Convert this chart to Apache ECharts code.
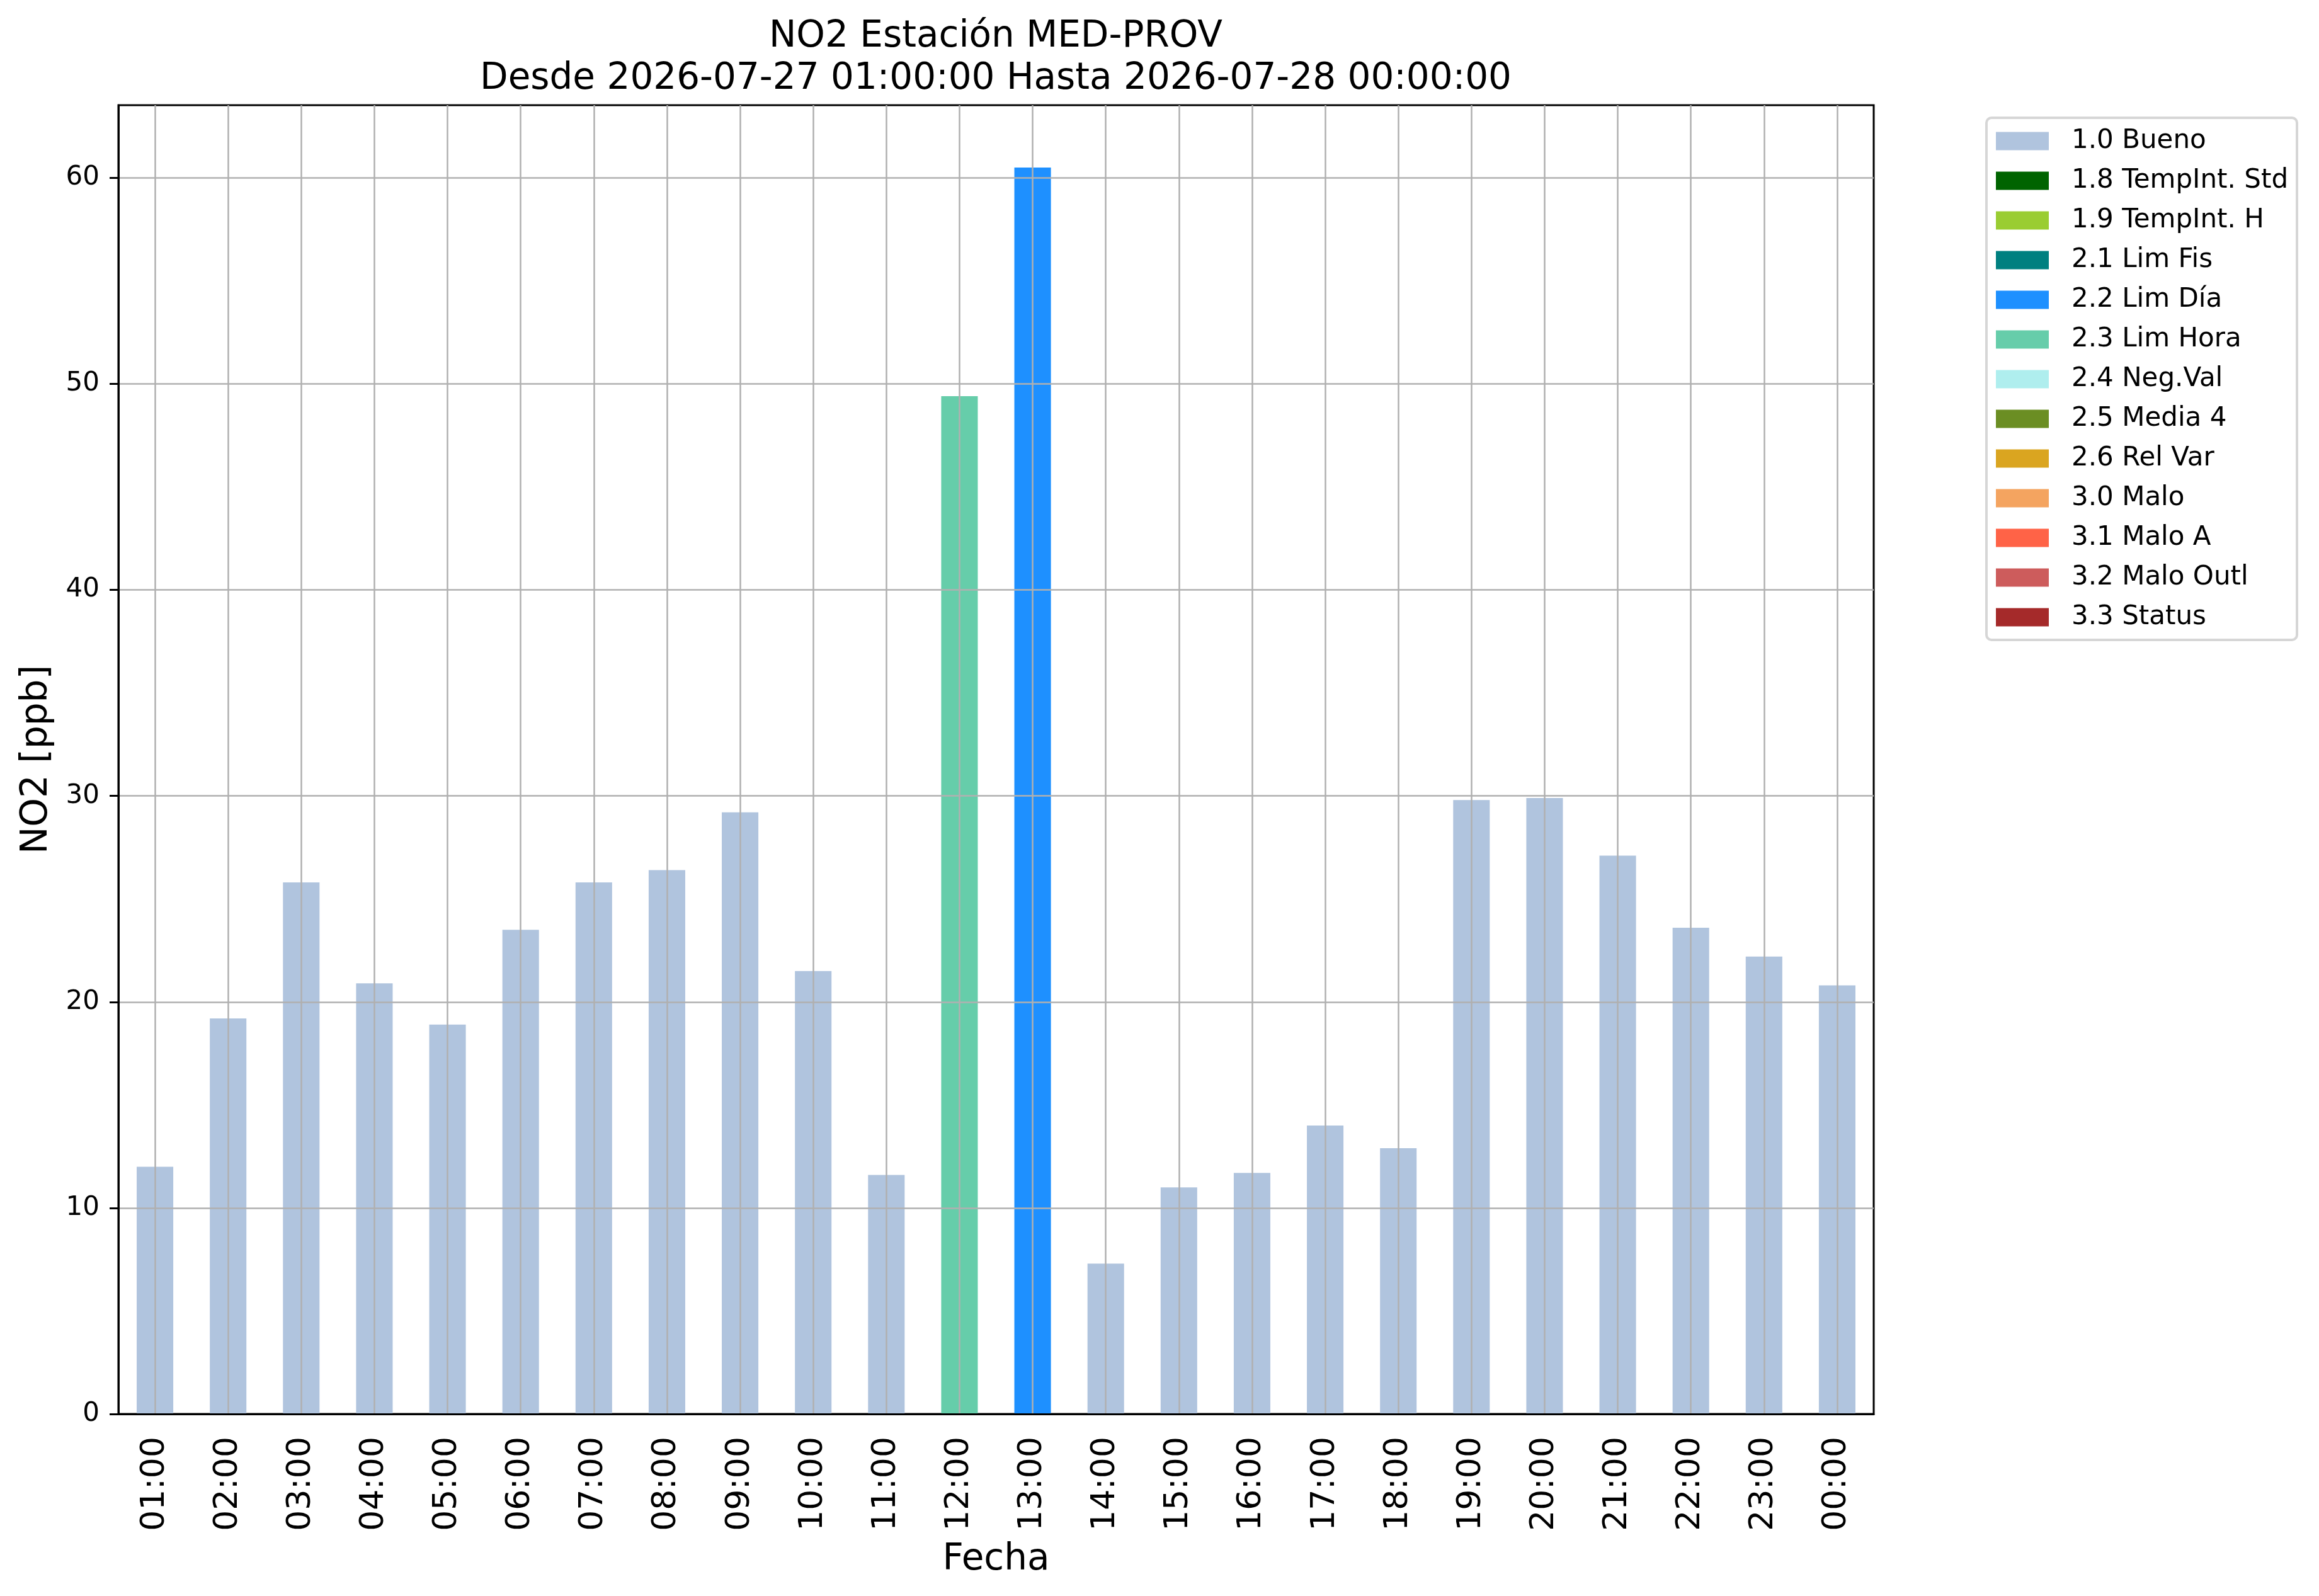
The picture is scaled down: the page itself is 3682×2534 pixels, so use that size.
<!DOCTYPE html>
<html>
<head>
<meta charset="utf-8">
<title>NO2 Estación MED-PROV</title>
<script src="https://cdn.jsdelivr.net/npm/echarts@6/dist/echarts.min.js"></script>
<style>
  html, body { margin: 0; padding: 0; background: #fff; }
  #chart { width: 3682px; height: 2534px; }
</style>
</head>
<body>
<div id="chart"></div>
<script>
// ====== datos ======
const hours = ['01:00', '02:00', '03:00', '04:00', '05:00', '06:00', '07:00', '08:00',
    '09:00', '10:00', '11:00', '12:00', '13:00', '14:00', '15:00', '16:00',
    '17:00', '18:00', '19:00', '20:00', '21:00', '22:00', '23:00', '00:00'];

// NO2 [ppb] por hora
const no2Values = [12.0, 19.2, 25.8, 20.9, 18.9, 23.5, 25.8, 26.4,
    29.2, 21.5, 11.6, 49.4, 60.5, 7.3, 11.0, 11.7,
    14.0, 12.9, 29.8, 29.9, 27.1, 23.6, 22.2, 20.8];

// bandera de validación de cada hora
const hourFlags = ['1.0 Bueno', '1.0 Bueno', '1.0 Bueno', '1.0 Bueno', '1.0 Bueno', '1.0 Bueno',
    '1.0 Bueno', '1.0 Bueno', '1.0 Bueno', '1.0 Bueno', '1.0 Bueno', '2.3 Lim Hora',
    '2.2 Lim Día', '1.0 Bueno', '1.0 Bueno', '1.0 Bueno', '1.0 Bueno', '1.0 Bueno',
    '1.0 Bueno', '1.0 Bueno', '1.0 Bueno', '1.0 Bueno', '1.0 Bueno', '1.0 Bueno'];

const flagNames = ['1.0 Bueno', '1.8 TempInt. Std', '1.9 TempInt. H', '2.1 Lim Fis',
    '2.2 Lim Día', '2.3 Lim Hora', '2.4 Neg.Val', '2.5 Media 4', '2.6 Rel Var',
    '3.0 Malo', '3.1 Malo A', '3.2 Malo Outl', '3.3 Status'];

const flagColors = ['#B0C4DE', '#006400', '#9ACD32', '#008080',
    '#1E90FF', '#66CDAA', '#AFEEEE', '#6B8E23', '#DAA520',
    '#F4A460', '#FF6347', '#CD5C5C', '#A52A2A'];

const yTicks = [0, 10, 20, 30, 40, 50, 60];
const yMax = 63.525;

const fontFamily = 'DejaVu Sans';
const gridColor = '#b0b0b0';

// una serie apilada por bandera (como pandas stacked=True)
const buildSeries = () => flagNames.map((flag, k) => ({
    name: flag,
    type: 'bar',
    stack: 'flags',
    barWidth: '50%',
    itemStyle: { color: flagColors[k] },
    data: no2Values.map((v, i) => hourFlags[i] === flag ? v : '-')
}));

function initChart() {
    const dom = document.getElementById('chart');
    const myChart = echarts.init(dom, null, { renderer: 'canvas' });

    const option = {
        animation: false,
        backgroundColor: '#fff',
        textStyle: { fontFamily: fontFamily, color: '#000' },
        title: {
            text: 'NO2 Estación MED-PROV\nDesde 2026-07-27 01:00:00 Hasta 2026-07-28 00:00:00',
            left: 1581, top: 25,
            textAlign: 'center',
            padding: 0,
            textStyle: { fontFamily: fontFamily, fontSize: 58, fontWeight: 'normal', color: '#000', lineHeight: 67 }
        },
        legend: {
            orient: 'vertical',
            left: 3154, top: 187,
            padding: [16, 14, 15, 15],
            itemWidth: 84, itemHeight: 29, itemGap: 21,
            icon: 'rect',
            selectedMode: false,
            backgroundColor: '#fff',
            borderColor: '#d6d6d6', borderWidth: 4, borderRadius: 8,
            textStyle: { fontFamily: fontFamily, fontSize: 42, color: '#000', padding: [0, 0, 0, 31] },
            data: flagNames
        },
        grid: {
            left: 188, right: 707, top: 167, bottom: 289,
            show: true, borderColor: '#000', borderWidth: 3
        },
        xAxis: {
            type: 'category',
            data: hours,
            z: 5,
            name: 'Fecha', nameLocation: 'middle', nameGap: 203,
            nameTextStyle: { fontFamily: fontFamily, fontSize: 58, color: '#000' },
            axisLine: { lineStyle: { color: '#000', width: 3 } },
            axisTick: { alignWithLabel: true, length: 14, lineStyle: { color: '#000', width: 3 } },
            axisLabel: { rotate: 90, interval: 0, margin: 36, fontSize: 52, color: '#000', fontFamily: fontFamily },
            splitLine: { show: true, alignWithLabel: true, interval: 0, lineStyle: { color: gridColor, width: 2.5 } }
        },
        yAxis: {
            type: 'value',
            min: 0, max: yMax, interval: 10,
            z: 5,
            name: 'NO2 [ppb]', nameLocation: 'middle', nameGap: 100,
            nameTextStyle: { fontFamily: fontFamily, fontSize: 58, color: '#000' },
            axisLine: { show: true, lineStyle: { color: '#000', width: 3 } },
            axisTick: { show: true, length: 14, customValues: yTicks, lineStyle: { color: '#000', width: 3 } },
            axisLabel: { margin: 30, fontSize: 42, color: '#000', fontFamily: fontFamily, customValues: yTicks },
            splitLine: { show: true, lineStyle: { color: gridColor, width: 2.5 } }
        },
        series: buildSeries()
    };

    myChart.setOption(option);
    return myChart;
}

window.onload = () => {
    const chart = initChart();
    window.addEventListener('resize', () => chart.resize());
};
</script>
</body>
</html>
